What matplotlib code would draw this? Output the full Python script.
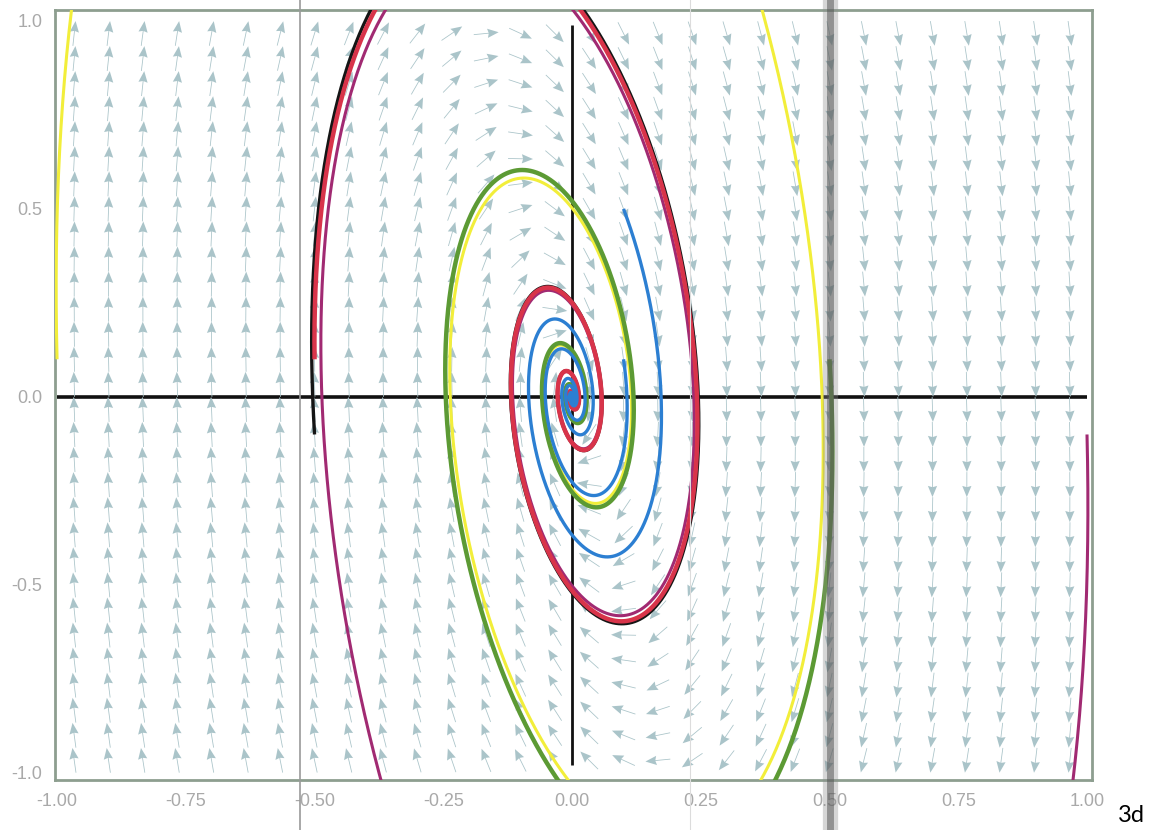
import numpy as np
import matplotlib
matplotlib.use("Agg")
import matplotlib.pyplot as plt
from matplotlib.lines import Line2D

# ---- data ----
# linear system  x' = Q*x + B*y ,  y' = -A*x + S*y  (coefficients estimated from the field and the spirals)
Q_COEF = 0.335
B_COEF = 1.15
A_COEF = 12.3
S_COEF = -1.975

# trajectory starting points and colours
traj_starts = [(-1.0, 0.1), (0.5, 0.1), (-0.5, -0.1), (1.0, -0.1), (-0.5, 0.1), (0.1, 0.5), (0.1, 0.1)]
traj_colors = ["#f2ee3a", "#5c9a34", "#151515", "#a12a72", "#d8344a", "#2c7fd2", "#2c7fd2"]
traj_widths = [2.2, 3.2, 2.4, 2.2, 3.2, 2.4, 2.4]
equilibrium = (0.0, 0.0)

x_ticks = [-1.0, -0.75, -0.5, -0.25, 0.0, 0.25, 0.5, 0.75, 1.0]
x_tick_labels = ["-1.00", "-0.75", "-0.50", "-0.25", "0.00", "0.25", "0.50", "0.75", "1.00"]
y_ticks = [-1.0, -0.5, 0.0, 0.5, 1.0]
y_tick_labels = ["-1.0", "-0.5", "0.0", "0.5", "1.0"]
n_grid = 30
panel_label = "3d"


def field(x, y):
    return Q_COEF * x + B_COEF * y, -A_COEF * x + S_COEF * y


def integrate(x0, y0, dt=0.002, t_end=14.0):
    n = int(t_end / dt)
    xs = np.empty(n + 1)
    ys = np.empty(n + 1)
    xs[0], ys[0] = x0, y0
    x, y = x0, y0
    for i in range(n):
        k1 = field(x, y)
        k2 = field(x + dt / 2 * k1[0], y + dt / 2 * k1[1])
        k3 = field(x + dt / 2 * k2[0], y + dt / 2 * k2[1])
        k4 = field(x + dt * k3[0], y + dt * k3[1])
        x += dt / 6 * (k1[0] + 2 * k2[0] + 2 * k3[0] + k4[0])
        y += dt / 6 * (k1[1] + 2 * k2[1] + 2 * k3[1] + k4[1])
        xs[i + 1], ys[i + 1] = x, y
    return xs, ys


W, H, DPI = 1153, 830, 100
fig = plt.figure(figsize=(W / DPI, H / DPI), dpi=DPI)
ax = fig.add_axes([55 / W, 1 - 780 / H, (1092 - 55) / W, (780 - 10) / H])
xlim = (-1.004, 1.0097)
ylim = (-1.019, 1.029)
ax.set_xlim(*xlim)
ax.set_ylim(*ylim)

# pixel scale for screen-space arrow directions
sx = (1092 - 55) / (xlim[1] - xlim[0])
sy = (780 - 10) / (ylim[1] - ylim[0])

# axes lines
ax.plot([-1, 1], [0, 0], color="#111111", lw=2.6, zorder=2, solid_capstyle="butt")
ax.plot([0, 0], [-0.98, 0.99], color="#111111", lw=2.0, zorder=2, solid_capstyle="butt")

# direction field
g = -1 + 1 / n_grid + np.arange(n_grid) * 2 / n_grid
GX, GY = np.meshgrid(g, g)
U, V = field(GX, GY)
theta = np.degrees(np.arctan2(V * sy, U * sx))
ax.quiver(GX, GY, np.ones_like(GX), np.zeros_like(GX), angles=theta,
          pivot="mid", units="dots", width=0.8, scale_units="inches", scale=4.0,
          headwidth=11.5, headlength=14.0, headaxislength=12.5,
          color="#aac4c9", zorder=3)

# trajectories
for (x0, y0), col, lw, z in zip(traj_starts, traj_colors, traj_widths, [4, 4.1, 4.2, 4.3, 4.4, 4.5, 4.5]):
    xs, ys = integrate(x0, y0)
    ax.plot(xs, ys, color=col, lw=lw, zorder=z, solid_capstyle="butt")

ax.plot([equilibrium[0]], [equilibrium[1]], "o", color="#2c7fd2", ms=7, zorder=5)

# frame / ticks
for s in ax.spines.values():
    s.set_color("#8d9e8f")
    s.set_linewidth(2.0)
ax.set_xticks(x_ticks)
ax.set_xticklabels(x_tick_labels)
ax.set_yticks(y_ticks)
ax.set_yticklabels(y_tick_labels)
ax.tick_params(length=0, pad=9, labelcolor="#a9a9a9", labelsize=13)
for lab in ax.get_xticklabels() + ax.get_yticklabels():
    lab.set_family("Liberation Sans")

# scan artifacts (page fold lines)
fig.add_artist(Line2D([300 / W, 300 / W], [0, 1], transform=fig.transFigure, color="#9a9a9a", lw=1.2, zorder=10))
fig.add_artist(Line2D([690 / W, 690 / W], [0, 1], transform=fig.transFigure, color="#dcdcdc", lw=0.8, zorder=10))
fig.add_artist(Line2D([830 / W, 830 / W], [0, 1], transform=fig.transFigure, color="#8a8a8a", lw=11, alpha=0.35, zorder=10))
fig.add_artist(Line2D([830 / W, 830 / W], [0, 1], transform=fig.transFigure, color="#505050", lw=5, alpha=0.5, zorder=10))

fig.text(1118 / W, 1 - 822 / H, panel_label, fontsize=17, family="Lato", color="black", va="baseline")

fig.savefig("out.png", dpi=DPI)
